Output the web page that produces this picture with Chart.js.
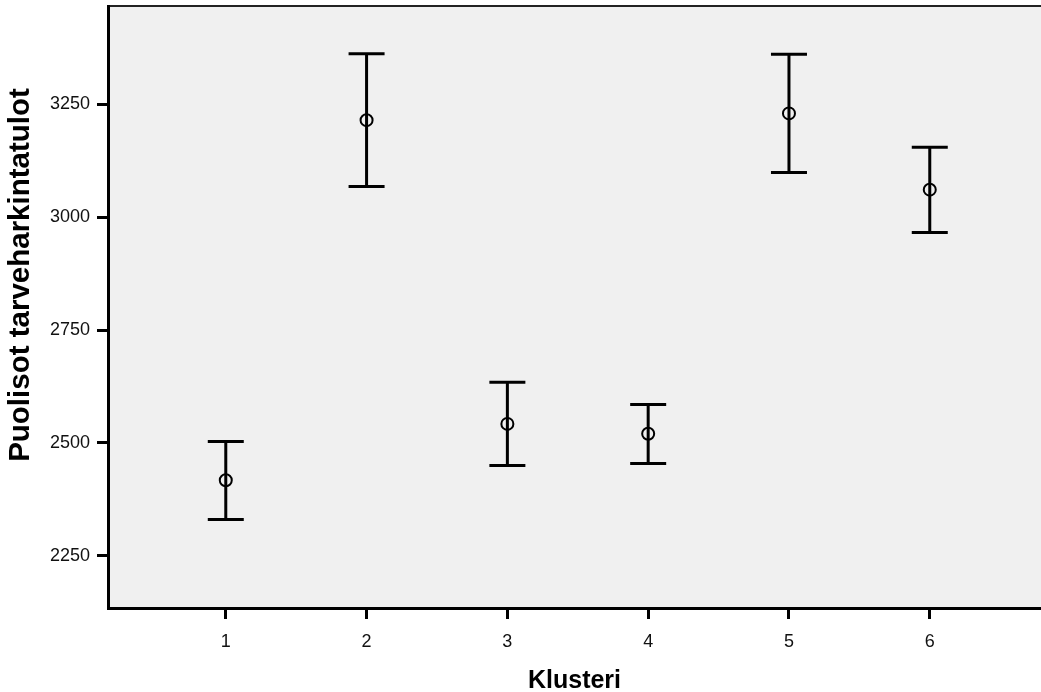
<!DOCTYPE html>
<html>
<head>
<meta charset="utf-8">
<script src="https://cdn.jsdelivr.net/npm/chart.js@4/dist/chart.umd.min.js"></script>
<style>
  html, body { margin: 0; padding: 0; background: #fff; }
  #wrap { width: 1041px; height: 692px; }
</style>
</head>
<body>
<div id="wrap"><canvas id="klusteriChart" width="1041" height="692"></canvas></div>
<script>
// Klusterit ja keskiarvot virhepalkkeineen
const klusterit = [1, 2, 3, 4, 5, 6];
const keskiarvot = [2417, 3215, 2542, 2520, 3230, 3061];
const alarajat = [2330, 3068, 2450, 2454, 3099, 2966];
const ylarajat = [2503, 3362, 2634, 2585, 3361, 3155];
const xTicks = [1, 2, 3, 4, 5, 6];
const yTicks = [2250, 2500, 2750, 3000, 3250];
const yOtsikko = 'Puolisot tarveharkintatulot';

const pisteet = klusterit.map((k, i) => ({ x: k, y: keskiarvot[i] }));
const fontti = 'Liberation Sans, Arial, sans-serif';

// harmaa tausta, ylareuna ja y-akselin otsikko
const taustaPlugin = {
    id: 'tausta',
    beforeDraw(chart) {
        const { ctx, chartArea: a } = chart;
        ctx.save();
        ctx.fillStyle = '#f0f0f0';
        ctx.fillRect(a.left, a.top, a.right - a.left, a.bottom - a.top);
        ctx.strokeStyle = '#222';
        ctx.lineWidth = 2;
        ctx.beginPath();
        ctx.moveTo(a.left, a.top);
        ctx.lineTo(a.right, a.top);
        ctx.stroke();

        ctx.translate(21, 275);
        ctx.rotate(-Math.PI / 2);
        ctx.fillStyle = '#000';
        ctx.font = 'bold 29.5px ' + fontti;
        ctx.textAlign = 'center';
        ctx.textBaseline = 'middle';
        ctx.fillText(yOtsikko, 0, 0);
        ctx.restore();
    }
};

// virhepalkit
const virhepalkit = {
    id: 'virhepalkit',
    beforeDatasetsDraw(chart) {
        const { ctx, scales: { x, y } } = chart;
        ctx.save();
        ctx.strokeStyle = '#000';
        ctx.lineWidth = 3;
        ctx.lineCap = 'butt';
        klusterit.forEach((k, i) => {
            const px = x.getPixelForValue(k);
            const yLo = y.getPixelForValue(alarajat[i]);
            const yHi = y.getPixelForValue(ylarajat[i]);
            ctx.beginPath();
            ctx.moveTo(px, yLo);
            ctx.lineTo(px, yHi);
            ctx.moveTo(px - 18, yHi);
            ctx.lineTo(px + 18, yHi);
            ctx.moveTo(px - 18, yLo);
            ctx.lineTo(px + 18, yLo);
            ctx.stroke();
        });
        ctx.restore();
    }
};

const ctx = document.getElementById('klusteriChart').getContext('2d');
const chart = new Chart(ctx, {
    type: 'scatter',
    data: {
        datasets: [{
            label: 'Keskiarvo',
            data: pisteet,
            pointStyle: 'circle',
            pointRadius: 6,
            pointBorderWidth: 2,
            pointBorderColor: '#000',
            pointBackgroundColor: 'rgba(0,0,0,0)',
            pointHoverRadius: 6
        }]
    },
    plugins: [taustaPlugin, virhepalkit],
    options: {
        responsive: false,
        animation: false,
        events: [],
        layout: {
            autoPadding: false,
            padding: { top: 6, right: 0, left: 0, bottom: 0 }
        },
        plugins: {
            legend: { display: false },
            tooltip: { enabled: false }
        },
        scales: {
            x: {
                type: 'linear',
                min: 0.1635,
                max: 6.79,
                afterBuildTicks(scale) { scale.ticks = xTicks.map(v => ({ value: v })); },
                afterFit(scale) {
                    scale.height = 84;
                    scale.paddingLeft = 0;
                    scale.paddingRight = 0;
                },
                border: { display: true, color: '#000', width: 3 },
                grid: {
                    display: true,
                    drawOnChartArea: false,
                    drawTicks: true,
                    tickLength: 11,
                    tickWidth: 3,
                    tickColor: '#000'
                },
                ticks: {
                    color: '#111',
                    padding: 12,
                    maxRotation: 0,
                    font: { family: fontti, size: 18 }
                },
                title: {
                    display: true,
                    text: 'Klusteri',
                    color: '#000',
                    padding: { top: 0, bottom: -4 },
                    font: { family: fontti, size: 25, weight: 'bold' }
                }
            },
            y: {
                type: 'linear',
                min: 2134,
                max: 3468,
                afterBuildTicks(scale) { scale.ticks = yTicks.map(v => ({ value: v })); },
                afterFit(scale) {
                    scale.width = 108;
                    scale.paddingTop = 0;
                    scale.paddingBottom = 0;
                },
                border: { display: true, color: '#000', width: 3 },
                grid: {
                    display: true,
                    drawOnChartArea: false,
                    drawTicks: true,
                    tickLength: 11,
                    tickWidth: 3,
                    tickColor: '#000'
                },
                ticks: {
                    color: '#111',
                    padding: 7,
                    callback: v => String(v),
                    font: { family: fontti, size: 18 }
                },
                title: { display: false }
            }
        }
    }
});
</script>
</body>
</html>
